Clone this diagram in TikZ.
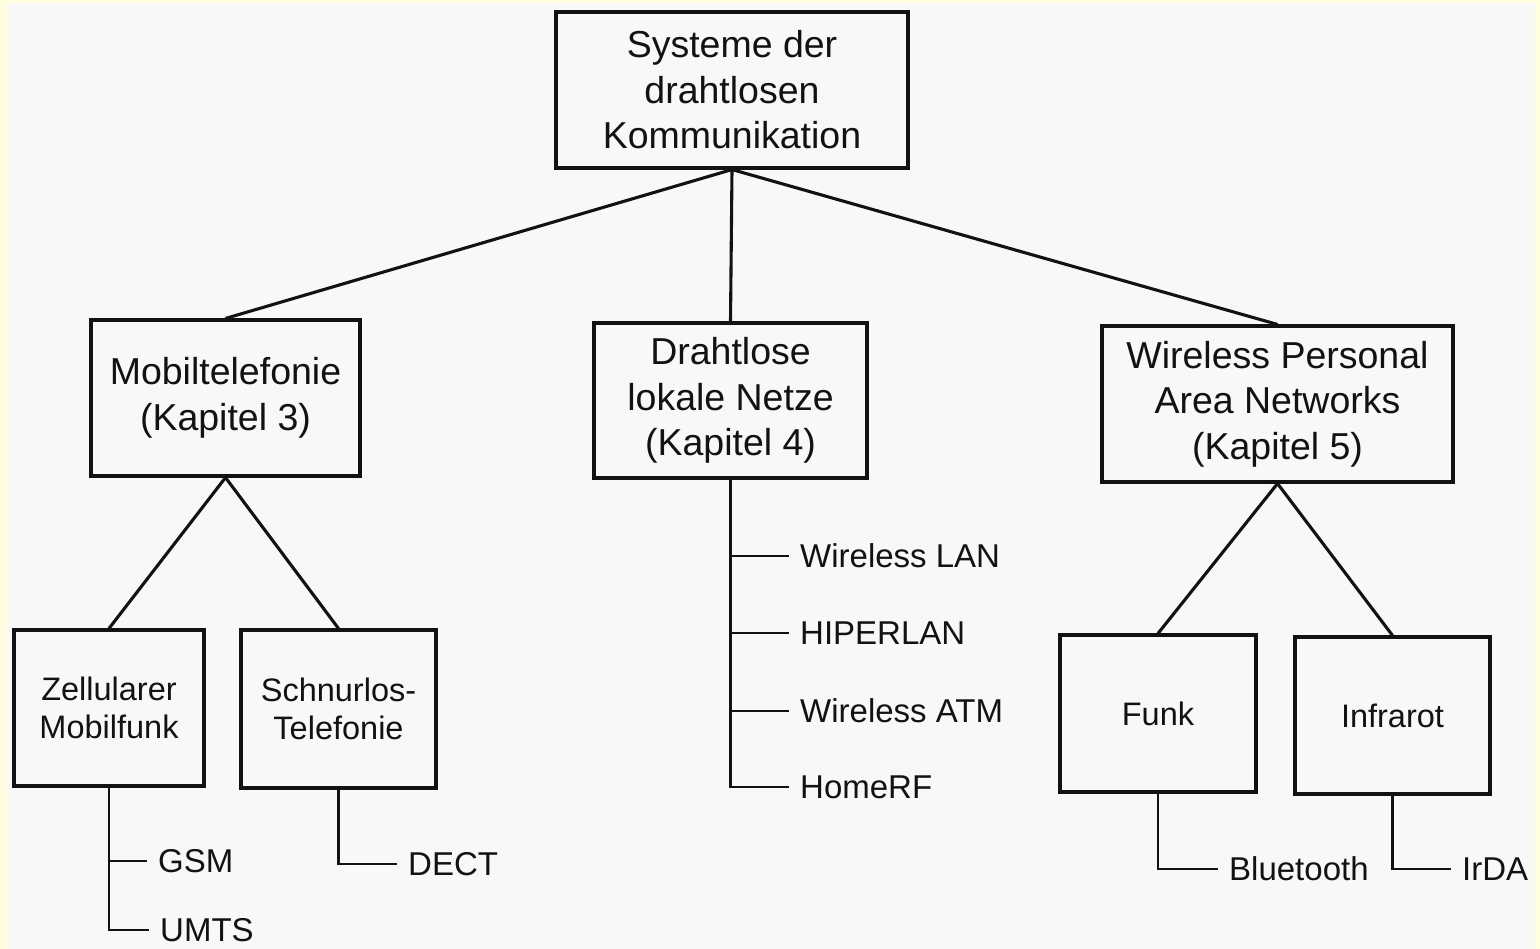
\documentclass[tikz,border=0pt]{standalone}
\usepackage{fontspec}
\setmainfont{Liberation Sans}
\definecolor{paper}{HTML}{F8F8F6}
\definecolor{rim}{HTML}{FFFFE0}
\definecolor{ink}{HTML}{121212}
\tikzset{
  box/.style={draw=ink, line width=3.1pt, inner sep=0pt, align=center, text=ink},
  bigbox/.style={box, font=\fontsize{37.5}{45.5}\selectfont},
  smallbox/.style={box, font=\fontsize{32.5}{38.5}\selectfont},
  leaf/.style={anchor=base west, inner xsep=11pt, inner ysep=0pt, text height=22pt, text depth=0pt, text=ink, font=\fontsize{33}{38}\selectfont},
  link/.style={draw=ink, line width=3.1pt},
  twig/.style={draw=ink, line width=2.8pt}
}
\begin{document}
\begin{tikzpicture}[x=1pt,y=-1pt]
\useasboundingbox (0,0) rectangle (1540,949);
\fill[rim] (0,0) rectangle (1540,949);
\fill[paper] (7,3) rectangle (1535,949);

\node[bigbox, minimum width=352pt, minimum height=156pt] (top) at (732,90) {Systeme der\\drahtlosen\\Kommunikation};
\node[bigbox, minimum width=269pt, minimum height=156pt] (mob) at (225.5,398) {Mobiltelefonie\\(Kapitel 3)};
\node[bigbox, minimum width=273pt, minimum height=155pt] (dl) at (730.5,400.5) {Drahtlose\\lokale Netze\\(Kapitel 4)};
\node[bigbox, minimum width=351pt, minimum height=156pt] (wp) at (1277.5,404) {Wireless Personal\\Area Networks\\(Kapitel 5)};

\node[smallbox, minimum width=190pt, minimum height=156pt] (zm) at (109,708) {Zellularer\\Mobilfunk};
\node[smallbox, minimum width=195pt, minimum height=158pt] (st) at (338.5,709) {Schnurlos-\\Telefonie};
\node[smallbox, minimum width=196pt, minimum height=157pt] (fk) at (1158,713.5) {Funk};
\node[smallbox, minimum width=195pt, minimum height=157pt] (ir) at (1392.5,715.5) {Infrarot};

\draw[link] (top.south) -- (mob.north);
\draw[link] (top.south) -- (dl.north);
\draw[link] (top.south) -- (wp.north);
\draw[link] (mob.south) -- (zm.north);
\draw[link] (mob.south) -- (st.north);
\draw[link] (wp.south) -- (fk.north);
\draw[link] (wp.south) -- (ir.north);

% leaves
\node[leaf] (wlan) at (789,567) {Wireless LAN};
\node[leaf] (hip) at (789,644) {HIPERLAN};
\node[leaf] (watm) at (789,722) {Wireless ATM};
\node[leaf] (hrf) at (789,798) {HomeRF};
\draw[twig] (dl.south) |- (hrf.west);
\draw[twig] (dl.south |- wlan.west) -- (wlan.west);
\draw[twig] (dl.south |- hip.west) -- (hip.west);
\draw[twig] (dl.south |- watm.west) -- (watm.west);

\node[leaf] (gsm) at (147,872) {GSM};
\node[leaf] (umts) at (149,941) {UMTS};
\draw[twig] (zm.south) |- (umts.west);
\draw[twig] (zm.south |- gsm.west) -- (gsm.west);

\node[leaf] (dect) at (397,875) {DECT};
\draw[twig] (st.south) |- (dect.west);

\node[leaf] (bt) at (1218,880) {Bluetooth};
\draw[twig] (fk.south) |- (bt.west);

\node[leaf] (irda) at (1451,880) {IrDA};
\draw[twig] (ir.south) |- (irda.west);
\end{tikzpicture}
\end{document}
